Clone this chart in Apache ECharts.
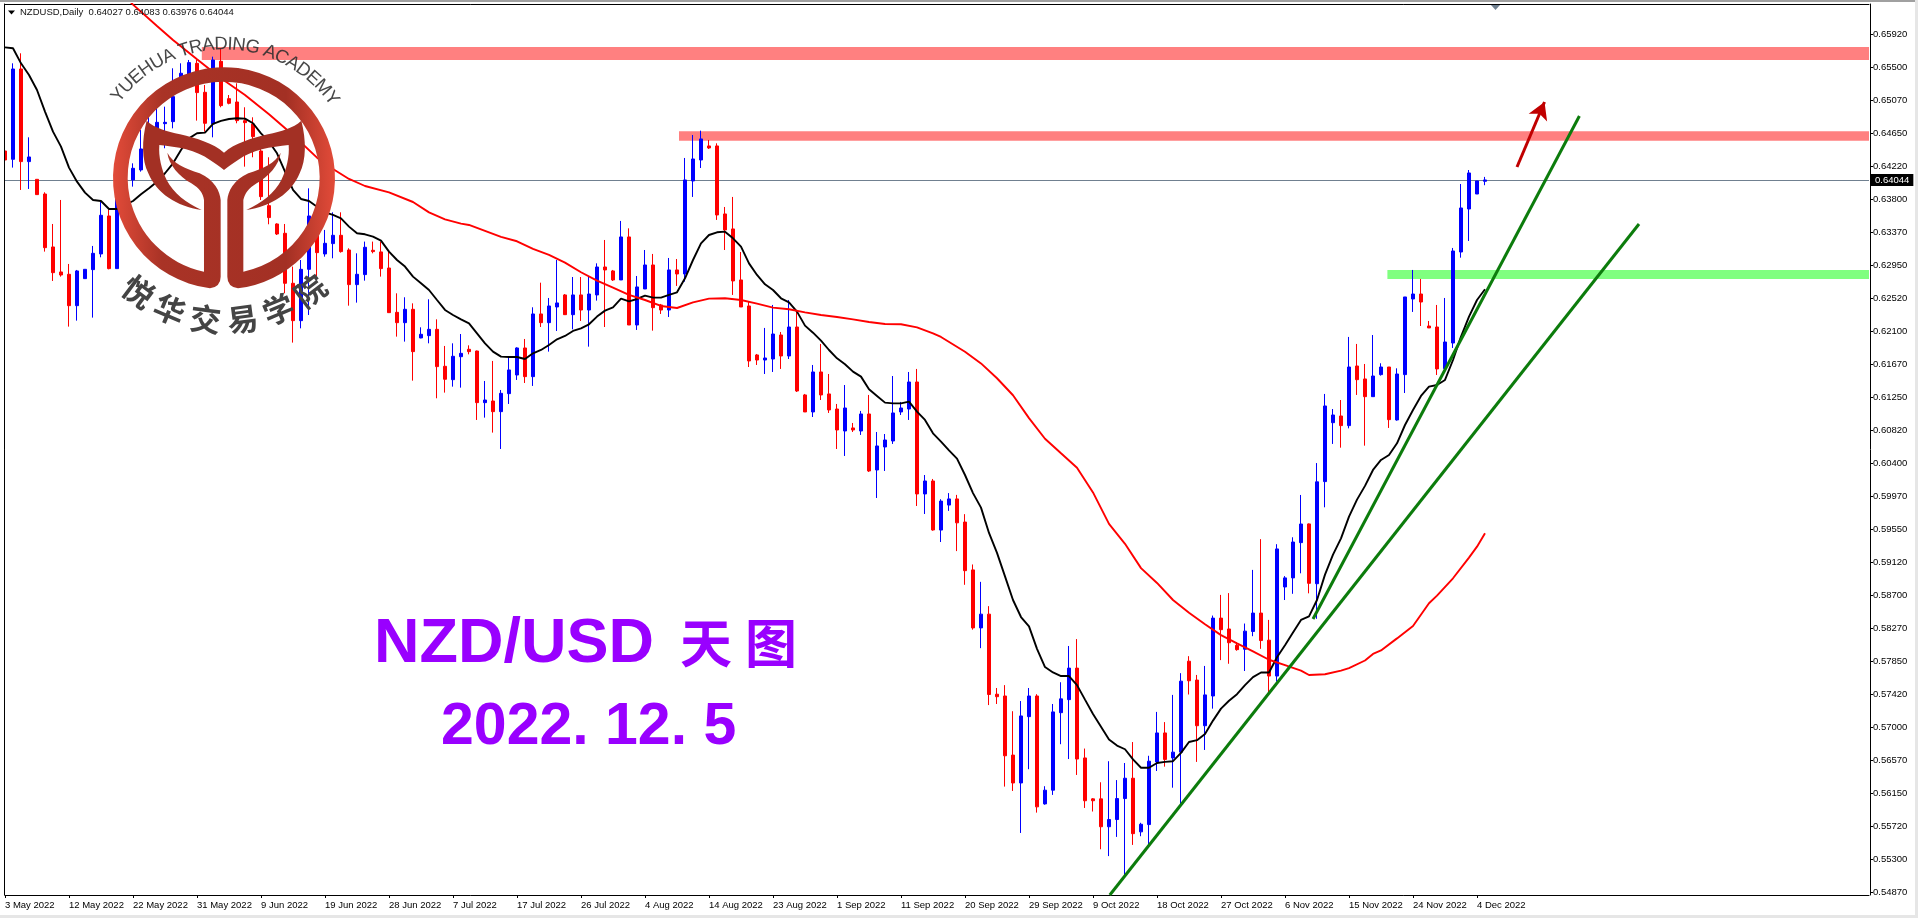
<!DOCTYPE html>
<html><head><meta charset="utf-8">
<style>html,body{margin:0;padding:0;background:#fff}#c{width:1918px;height:918px}</style>
<script src="https://cdn.jsdelivr.net/npm/echarts@6/dist/echarts.min.js"></script>
</head><body><div id="c"></div>
<script>
const xTickLabels=["3 May 2022","12 May 2022","22 May 2022","31 May 2022","9 Jun 2022","19 Jun 2022","28 Jun 2022","7 Jul 2022","17 Jul 2022","26 Jul 2022","4 Aug 2022","14 Aug 2022","23 Aug 2022","1 Sep 2022","11 Sep 2022","20 Sep 2022","29 Sep 2022","9 Oct 2022","18 Oct 2022","27 Oct 2022","6 Nov 2022","15 Nov 2022","24 Nov 2022","4 Dec 2022"];
const yTicks=[0.6592,0.655,0.6507,0.6465,0.6422,0.638,0.6337,0.6295,0.6252,0.621,0.6167,0.6125,0.6082,0.604,0.5997,0.5955,0.5912,0.587,0.5827,0.5785,0.5742,0.57,0.5657,0.5615,0.5572,0.553,0.5487];
// open, close, low, high
const candles=[[0.64417,0.64301,0.64087,0.64752],[0.6431,0.65473,0.64203,0.65546],[0.65473,0.6428,0.63915,0.65675],[0.6428,0.6434,0.63928,0.64593],[0.64052,0.63855,0.63855,0.64052],[0.63863,0.63172,0.63121,0.63885],[0.63181,0.6285,0.62743,0.63477],[0.62859,0.6282,0.62799,0.63786],[0.62829,0.62425,0.62155,0.62962],[0.62425,0.62872,0.62232,0.62885],
[0.62773,0.62893,0.62773,0.62893],[0.62889,0.63099,0.62271,0.63194],[0.63091,0.63589,0.63048,0.63765],[0.6358,0.62902,0.62893,0.63666],[0.62902,0.63958,0.62902,0.6413],[0.63915,0.64087,0.63786,0.64215],[0.64044,0.64194,0.63958,0.64258],[0.64173,0.64443,0.64151,0.64688],[0.64452,0.64731,0.64387,0.64859],[0.64473,0.64786,0.64452,0.64967],
[0.64769,0.64786,0.64452,0.64988],[0.64795,0.65117,0.64709,0.65482],[0.65203,0.65418,0.65181,0.65546],[0.65409,0.65555,0.65332,0.65589],[0.65546,0.65169,0.64808,0.65589],[0.65173,0.64774,0.64666,0.65267],[0.64765,0.65589,0.64593,0.65632],[0.65572,0.65001,0.6498,0.6574],[0.65091,0.65031,0.65018,0.65138],[0.65048,0.64808,0.64774,0.65289],
[0.64808,0.64782,0.64215,0.6498],[0.64765,0.64602,0.64336,0.64851],[0.64417,0.63829,0.63786,0.64602],[0.63713,0.63559,0.63473,0.64336],[0.63477,0.63348,0.63335,0.63486],[0.63357,0.62713,0.62584,0.63477],[0.62713,0.62232,0.61949,0.62928],[0.62232,0.62893,0.62133,0.63013],[0.62893,0.6358,0.62305,0.63936],[0.63357,0.63108,0.62799,0.634],
[0.63091,0.63228,0.63056,0.634],[0.63224,0.63331,0.63035,0.63627],[0.63331,0.63121,0.63108,0.63627],[0.63142,0.62696,0.62425,0.63164],[0.62696,0.62829,0.62464,0.63099],[0.62825,0.63177,0.62747,0.6325],[0.63138,0.63121,0.63099,0.6325],[0.63117,0.62902,0.62799,0.6325],[0.6291,0.62335,0.62335,0.63121],[0.62339,0.62206,0.62026,0.62584],
[0.62206,0.62378,0.61962,0.62533],[0.62378,0.61833,0.61459,0.62455],[0.62009,0.62056,0.62005,0.62146],[0.62039,0.6212,0.6194,0.62507],[0.6212,0.6164,0.61232,0.62249],[0.61644,0.61477,0.61305,0.61906],[0.61472,0.61773,0.61382,0.6194],[0.61768,0.61811,0.61369,0.6206],[0.61863,0.61833,0.61798,0.61914],[0.61841,0.61176,0.60953,0.61846],
[0.61176,0.6121,0.60983,0.61455],[0.61197,0.6106,0.6079,0.61713],[0.6106,0.61296,0.60579,0.61339],[0.61292,0.61597,0.61159,0.61768],[0.61532,0.6188,0.61468,0.61889],[0.6188,0.61511,0.61429,0.61996],[0.61511,0.62318,0.61391,0.62404],[0.62318,0.62206,0.6215,0.62721],[0.62206,0.62421,0.61833,0.62524],[0.62408,0.6246,0.62099,0.63013],
[0.62563,0.62309,0.62305,0.62575],[0.62309,0.62563,0.6212,0.62794],[0.62563,0.62369,0.62228,0.62794],[0.62369,0.62575,0.61897,0.62799],[0.62563,0.62923,0.6249,0.6297],[0.62923,0.62885,0.6215,0.63271],[0.62872,0.62756,0.62743,0.62885],[0.62756,0.6331,0.62756,0.63516],[0.6331,0.62176,0.62176,0.63421],[0.62176,0.62666,0.62112,0.62807],
[0.6264,0.62949,0.6264,0.63142],[0.62949,0.62399,0.62103,0.63091],[0.62434,0.62369,0.62318,0.62447],[0.62369,0.62885,0.62279,0.63039],[0.62885,0.62833,0.62679,0.63026],[0.62833,0.64044,0.62734,0.64327],[0.64031,0.64314,0.63825,0.64623],[0.64301,0.64572,0.64198,0.64679],[0.64482,0.64456,0.64443,0.64559],[0.64482,0.63593,0.63529,0.64516],
[0.63606,0.634,0.63142,0.63696],[0.63413,0.62743,0.62563,0.63825],[0.62756,0.62408,0.62408,0.63116],[0.62421,0.61713,0.61635,0.62472],[0.6179,0.61725,0.61661,0.61803],[0.61725,0.61751,0.61545,0.62138],[0.61738,0.6206,0.61571,0.62434],[0.62047,0.61777,0.6161,0.62086],[0.61777,0.6215,0.61738,0.62498],[0.6215,0.61326,0.61313,0.62369],
[0.61275,0.61056,0.61056,0.61288],[0.61056,0.61571,0.60991,0.61661],[0.61571,0.61275,0.6121,0.61932],[0.61288,0.61082,0.61043,0.61545],[0.61094,0.60824,0.60579,0.61159],[0.60811,0.61107,0.60489,0.61403],[0.6085,0.60824,0.60798,0.60914],[0.60811,0.6103,0.6076,0.61069],[0.6103,0.60296,0.60283,0.61275],[0.60309,0.60618,0.59948,0.60798],
[0.60605,0.60695,0.60296,0.60772],[0.60682,0.61043,0.60644,0.61519],[0.61056,0.61107,0.61017,0.61185],[0.61094,0.61442,0.60953,0.61571],[0.61442,0.6,0.59845,0.6161],[0.6,0.60167,0.59742,0.60244],[0.60167,0.59536,0.59527,0.60193],[0.59535,0.59908,0.59381,0.59932],[0.59857,0.59936,0.59782,0.60011],[0.59936,0.59628,0.59264,0.59988],
[0.59638,0.59012,0.5883,0.5974],[0.59022,0.58275,0.58252,0.59092],[0.58275,0.58452,0.58014,0.58868],[0.58452,0.57417,0.57281,0.58555],[0.57421,0.57389,0.57295,0.57501],[0.57398,0.56628,0.56231,0.57538],[0.56637,0.56278,0.56175,0.57202],[0.56278,0.57141,0.55634,0.57333],[0.57132,0.57398,0.56455,0.57501],[0.57398,0.5597,0.55896,0.57421],
[0.56008,0.56185,0.55998,0.56236],[0.56185,0.57193,0.56124,0.57295],[0.57183,0.57361,0.56777,0.57575],[0.57351,0.57757,0.56586,0.58042],[0.57757,0.56586,0.56381,0.58131],[0.566,0.56049,0.55956,0.56721],[0.56073,0.56049,0.5591,0.56082],[0.56073,0.55714,0.55424,0.56287],[0.55714,0.55807,0.55336,0.56558],[0.55807,0.56077,0.55583,0.56315],
[0.56077,0.56339,0.55088,0.56535],[0.56339,0.55625,0.5548,0.56805],[0.55648,0.55746,0.55592,0.55765],[0.55742,0.56558,0.55485,0.56628],[0.56549,0.56922,0.56432,0.57193],[0.56922,0.56581,0.56488,0.57062],[0.566,0.56675,0.56217,0.57412],[0.56675,0.57589,0.55998,0.57692],[0.57846,0.57594,0.57417,0.57911],[0.57603,0.57015,0.56549,0.57669],
[0.57015,0.57412,0.56703,0.57785],[0.57398,0.58401,0.57235,0.58434],[0.58401,0.58252,0.5786,0.587],[0.58261,0.58084,0.57813,0.58723],[0.58051,0.57995,0.57981,0.58093],[0.58,0.58233,0.5772,0.58331],[0.58229,0.58466,0.58168,0.59022],[0.58466,0.58112,0.58005,0.59418],[0.58117,0.57655,0.57445,0.58378],[0.57655,0.59292,0.57585,0.59353],
[0.58802,0.58919,0.58634,0.58942],[0.58919,0.59381,0.58714,0.59442],[0.59373,0.59613,0.58978,0.59987],[0.59614,0.58849,0.5872,0.5962],[0.58844,0.60156,0.58392,0.60398],[0.60159,0.61133,0.59828,0.61288],[0.60918,0.61017,0.60644,0.61094],[0.61004,0.6088,0.60596,0.6121],[0.6088,0.61635,0.60845,0.62022],[0.61648,0.61472,0.61275,0.61932],
[0.61481,0.61253,0.60622,0.61674],[0.61253,0.61519,0.61253,0.62047],[0.61537,0.61635,0.61524,0.61683],[0.61635,0.60957,0.6085,0.61635],[0.60953,0.61545,0.60944,0.61618],[0.61537,0.62537,0.613,0.62537],[0.62511,0.62575,0.62344,0.62885],[0.62575,0.62472,0.62163,0.62769],[0.62163,0.62138,0.62138,0.62228],[0.6215,0.6161,0.61532,0.62434],
[0.61614,0.61957,0.6161,0.62524],[0.61944,0.63129,0.6188,0.63168],[0.63116,0.63683,0.63043,0.63992],[0.6367,0.64134,0.63258,0.64172],[0.63863,0.64031,0.63863,0.64031],[0.64027,0.64044,0.63976,0.64083]];
const maBlack=[0.65752,0.6574,0.65546,0.65396,0.65203,0.64924,0.64666,0.64473,0.64203,0.64022,0.63881,0.63786,0.63773,0.6367,0.6367,0.63722,0.63773,0.63859,0.63936,0.64022,0.6413,0.64258,0.6443,0.6458,0.64645,0.64653,0.64765,0.64804,0.64829,0.64838,0.64834,0.64774,0.64645,0.64537,0.64387,0.64151,0.63915,0.63799,0.63773,0.637,0.63627,0.63593,0.6355,0.63443,0.63357,0.63344,0.63314,0.63262,0.63121,0.63013,0.62928,0.62799,0.62713,0.62627,0.62498,0.6237,0.62305,0.62249,0.62198,0.62069,0.6194,0.61833,0.61768,0.61764,0.61764,0.61738,0.61811,0.61854,0.61919,0.61992,0.62035,0.62099,0.62133,0.62185,0.62284,0.62361,0.62404,0.62515,0.62481,0.62511,0.62554,0.62528,0.62528,0.62563,0.62597,0.62777,0.63013,0.63228,0.63335,0.6337,0.63378,0.63292,0.63185,0.6297,0.6282,0.627,0.62627,0.6252,0.62468,0.62348,0.62168,0.62077,0.61974,0.61854,0.61747,0.6167,0.61575,0.61511,0.61348,0.61262,0.61176,0.61167,0.61167,0.61189,0.6106,0.60953,0.60781,0.60674,0.60562,0.60454,0.60244,0.60011,0.59824,0.59498,0.59241,0.58938,0.58634,0.58415,0.58294,0.58005,0.57771,0.57701,0.57655,0.57655,0.57538,0.57351,0.57165,0.57001,0.56838,0.56759,0.56712,0.56581,0.56474,0.56474,0.56535,0.56549,0.56558,0.56665,0.56805,0.56829,0.56908,0.57081,0.57235,0.57337,0.57421,0.57538,0.57641,0.57701,0.57701,0.57897,0.58051,0.58215,0.58378,0.58424,0.58634,0.58961,0.59218,0.59428,0.59708,0.59927,0.60104,0.60309,0.60438,0.60502,0.60652,0.60888,0.61082,0.61262,0.61382,0.61403,0.61468,0.61725,0.62026,0.62284,0.62498,0.62636];
// [bar index, value]
const maRed=[[15,0.66405],[16,0.66302],[19,0.66027],[21,0.65847],[24,0.65598],[27,0.65353],[30,0.65138],[33,0.6489],[36,0.64623],[39,0.64331],[41,0.64185],[43,0.64057],[45,0.63966],[48,0.63885],[51,0.6376],[53,0.63627],[55,0.63537],[57,0.63481],[58,0.63464],[60,0.63387],[62,0.6331],[64,0.63254],[66,0.63155],[68,0.63078],[70,0.62979],[72,0.62855],[74,0.62747],[76,0.62657],[78,0.62563],[80,0.62498],[82,0.62421],[84,0.62395],[86,0.62468],[88,0.62515],[90,0.6252],[92,0.62498],[94,0.62451],[96,0.62399],[98,0.62378],[100,0.62339],[102,0.62305],[104,0.62279],[106,0.62249],[108,0.62215],[110,0.62189],[112,0.62185],[114,0.62146],[116,0.62069],[117,0.62022],[120,0.61831],[122,0.61681],[124,0.6149],[126,0.61271],[128,0.60977],[130,0.60711],[132,0.60524],[134,0.60338],[136,0.6002],[138,0.59614],[140,0.59358],[142,0.59045],[144,0.58854],[146,0.58634],[148,0.58471],[150,0.58322],[152,0.58182],[154,0.58075],[156,0.57972],[158,0.57865],[160,0.57795],[162,0.57725],[163,0.57668],[165,0.57678],[167,0.57725],[168,0.57757],[170,0.57855],[171,0.5794],[172,0.57985],[174,0.5814],[176,0.583],[178,0.58592],[179,0.5869],[181,0.58914],[183,0.5918],[184,0.59321],[185,0.59493]];
const zones=[[24.6,233.2,0.65589,0.65757],[84.25,233.2,0.6455,0.64671],[172.8,233.2,0.62769,0.62885]];
const zoneColors=['#ff8080','#ff8080','#80ff80'];
const trendA=[[138.1,0.54835],[204.25,0.63477]];
const trendB=[[163.5,0.5839],[196.8,0.64868]];
const arrowUp=[[189,0.64211],[192.44,0.65048]];
const lastPrice=0.64044;
const header="NZDUSD,Daily  0.64027 0.64083 0.63976 0.64044";

const slotCount=234;
const categories=Array.from({length:slotCount},(_,i)=>(i%8===0&&xTickLabels[i/8])||'');
const AX='"Liberation Sans",Arial,sans-serif';
const hasLabel=(i,v)=>v!=='';

echarts.graphic.registerShape('logoRing',echarts.graphic.extendPath('M630 865A333 333 0 1 1 714 865Q682 860 682 830L682 600C684 575 700 540 745 520C790 505 825 490 842 458C838 495 805 530 770 550C745 565 735 580 730 600L730 815A288 288 0 1 0 612 815L612 600C609 580 599 565 574 550C539 530 506 495 502 458C519 490 554 505 599 520C644 540 660 575 662 600L662 830Q662 860 630 865Z',{}));
echarts.graphic.registerShape('logoTail',echarts.graphic.extendPath('M672 458C704 430 754 415 804 403C844 393 879 385 904 362C919 420 919 480 899 520C874 580 814 620 739 630C784 610 824 580 844 540C859 510 869 470 866 435C814 440 754 450 714 480C699 490 684 500 672 510C660 500 645 490 630 480C590 450 530 440 478 435C475 470 485 510 500 540C520 580 560 610 605 630C530 620 470 580 445 520C425 480 425 420 440 362C465 385 500 393 540 403C590 415 640 430 672 458Z',{}));

const chart=echarts.init(document.getElementById('c'),null,{renderer:'canvas'});
const lineSeries=(data,color,width,z)=>({type:'line',xAxisIndex:1,yAxisIndex:0,data,symbol:'none',silent:true,z,lineStyle:{color,width},animation:false});

// logo helpers
const cx=224,cy=178.3;
const ctx=document.createElement('canvas').getContext('2d');
const arcFont='18.5px '+AX;ctx.font=arcFont;
const arcText='YUEHUA TRADING ACADEMY';
const widths=[...arcText].map(c=>ctx.measureText(c).width);
const total=widths.reduce((a,b)=>a+b,0);
const rArc=134,span=105*Math.PI/180,gap=(span*rArc-total+widths[0]/2+widths[widths.length-1]/2)/(arcText.length-1);
let pos=-span/2*rArc-widths[0]/2+2;
const logoText=[...arcText].map((c,i)=>{const mid=pos+widths[i]/2;pos+=widths[i]+gap;const th=mid/rArc;
 return {type:'text',z:101,x:cx+rArc*Math.sin(th),y:cy-rArc*Math.cos(th),rotation:-th,style:{text:c,font:arcFont,fill:'rgba(45,45,45,0.88)',textAlign:'center',textVerticalAlign:'middle'}};});
const cnText=[...'悦华交易学院'];const cnAng=[37,22.5,7.5,-7.5,-22.5,-37.5];
const logoCn=cnText.map((c,i)=>{const a=cnAng[i]*Math.PI/180;return {type:'text',z:101,x:cx-142*Math.sin(a),y:cy+142*Math.cos(a),rotation:-a,style:{text:c,font:'bold 31px "Noto Sans CJK SC"',fill:'#444',textAlign:'center',textVerticalAlign:'middle'}};});
const ringGrad={type:'linear',x:0,y:0,x2:1,y2:0,colorStops:[{offset:0,color:'#e24b39'},{offset:0.22,color:'#a93326'},{offset:0.78,color:'#a33024'},{offset:1,color:'#e24b39'}]};

chart.setOption({
 animation:false,backgroundColor:'#fff',
 grid:{left:5,top:4,width:1864,height:891,containLabel:false},
 xAxis:[
  {type:'category',data:categories,boundaryGap:false,position:'bottom',
   axisLine:{show:true,onZero:false,lineStyle:{color:'#000',width:1}},
   axisTick:{show:true,length:3,interval:hasLabel,lineStyle:{color:'#000'}},
   axisLabel:{show:true,interval:hasLabel,align:'left',margin:5,color:'#000',fontFamily:AX,fontSize:9.5},splitLine:{show:false}},
  {type:'value',min:0,max:233,position:'top',axisLine:{show:true,onZero:false,lineStyle:{color:'#000',width:1}},axisTick:{show:false},axisLabel:{show:false},splitLine:{show:false}}
 ],
 yAxis:[
  {type:'value',position:'right',offset:1,min:0.54835,max:0.6631,scale:true,
   axisLine:{show:true,onZero:false,lineStyle:{color:'#000',width:1}},
   axisTick:{show:true,length:3,customValues:yTicks,lineStyle:{color:'#000'}},
   axisLabel:{show:true,customValues:yTicks,margin:3,color:'#000',fontFamily:AX,fontSize:9.5,formatter:v=>v.toFixed(5)},splitLine:{show:false}},
  {type:'value',position:'left',offset:1,min:0.54835,max:0.6631,axisLine:{show:true,onZero:false,lineStyle:{color:'#000',width:1}},axisTick:{show:false},axisLabel:{show:false},splitLine:{show:false}}
 ],
 series:[
  {type:'custom',xAxisIndex:1,yAxisIndex:0,z:1,silent:true,data:zones,encode:{x:[0,1],y:[2,3]},clip:true,
   renderItem:(p,api)=>{const a=api.coord([api.value(0),api.value(3)]),b=api.coord([api.value(1),api.value(2)]);
    return {type:'rect',shape:{x:a[0],y:a[1],width:b[0]-a[0],height:b[1]-a[1]},style:{fill:zoneColors[p.dataIndex]}};}},
  {type:'candlestick',xAxisIndex:0,yAxisIndex:0,z:2,silent:true,clip:false,barWidth:4,data:candles,
   itemStyle:{color:'#0000ff',color0:'#ff0000',borderColor:'#0000ff',borderColor0:'#ff0000',borderWidth:1},
   markLine:{silent:true,symbol:'none',animation:false,precision:5,z:1,lineStyle:{color:'#708090',width:1,type:'solid'},
    data:[{yAxis:lastPrice}],
    label:{show:true,position:'end',distance:2,formatter:()=>lastPrice.toFixed(5),color:'#fff',backgroundColor:'#000',padding:[1,4,1,4],fontFamily:AX,fontSize:9.5}}},
  {type:'line',xAxisIndex:0,yAxisIndex:0,z:3,data:maBlack,symbol:'none',silent:true,lineStyle:{color:'#000',width:1.9}},
  {type:'line',xAxisIndex:0,yAxisIndex:0,z:3,data:maRed,symbol:'none',silent:true,lineStyle:{color:'#ff0000',width:1.9}},
  lineSeries(trendA,'#0c7c0c',3,4),
  lineSeries(trendB,'#0c7c0c',3,4),
  {type:'line',xAxisIndex:1,yAxisIndex:0,z:4,data:[],symbol:'none',silent:true,
   markLine:{silent:true,animation:false,precision:5,symbol:['none','arrow'],symbolSize:[15,17],lineStyle:{color:'#c00000',width:3,type:'solid'},label:{show:false},
    data:[[{coord:arrowUp[0]},{coord:arrowUp[1]}]]}}
 ],
 graphic:[
  {type:'rect',z:90,shape:{x:0,y:0,width:4,height:918},style:{fill:'#fff'}},
  {type:'line',z:91,shape:{x1:4.5,y1:4,x2:4.5,y2:895},style:{stroke:'#000',lineWidth:1}},
  {type:'rect',z:92,shape:{x:0,y:0,width:1918,height:2},style:{fill:'#a0a0a0'}},
  {type:'rect',z:92,shape:{x:0,y:915,width:1918,height:3},style:{fill:'#e6e6e6'}},
  {type:'rect',z:92,shape:{x:1915,y:0,width:3,height:918},style:{fill:'#e6e6e6'}},
  {type:'polygon',z:93,shape:{points:[[1491,5],[1500,5],[1495.5,10]]},style:{fill:'#708090'}},
  {type:'polygon',z:93,shape:{points:[[8,10.5],[15,10.5],[11.5,14.5]]},style:{fill:'#000'}},
  {type:'text',z:93,x:20,y:12.5,style:{text:header,font:'9.5px '+AX,fill:'#111',textVerticalAlign:'middle'}},
  // logo
  {type:'logoRing',z:100,scaleX:1/3,scaleY:1/3,style:{fill:ringGrad}},
  {type:'logoTail',z:100,scaleX:1/3,scaleY:1/3,style:{fill:'#a33024'}},
  ...logoText,...logoCn,
  // caption
  {type:'text',z:95,x:374,y:645,style:{text:'NZD/USD',font:'bold 63px '+AX,fill:'#9900ff',textVerticalAlign:'middle'}},
  {type:'text',z:95,x:706,y:643,style:{text:'天',font:'bold 52px "Noto Sans CJK SC"',fill:'#9900ff',textAlign:'center',textVerticalAlign:'middle'}},
  {type:'text',z:95,x:771,y:643,style:{text:'图',font:'bold 52px "Noto Sans CJK SC"',fill:'#9900ff',textAlign:'center',textVerticalAlign:'middle'}},
  {type:'text',z:95,x:441,y:728,style:{text:'2022. 12. 5',font:'bold 59px '+AX,fill:'#9900ff',textVerticalAlign:'middle'}}
 ]
});
</script></body></html>
